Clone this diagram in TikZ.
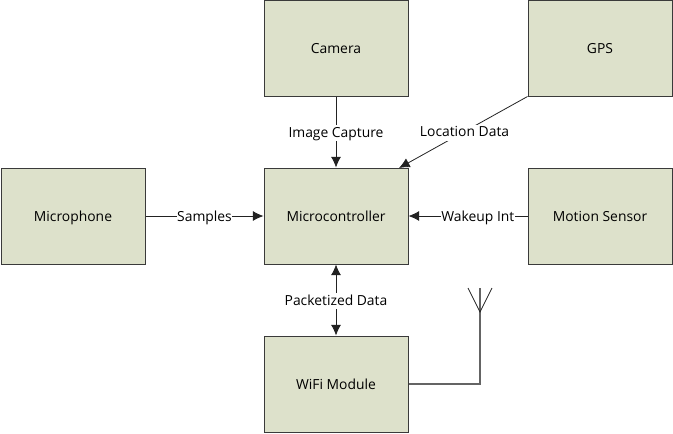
\documentclass[tikz,border=0pt]{standalone}
\usepackage{fontspec}
\setmainfont{Open Sans}
\usetikzlibrary{arrows.meta}
\definecolor{boxfill}{HTML}{DDE1CB}
\definecolor{boxline}{HTML}{3A3A3A}
\definecolor{wire}{HTML}{222222}
\tikzset{
  x=0.75pt,y=-0.75pt,
  blockbox/.style={draw=boxline,fill=boxfill,line width=0.75pt,minimum width=108pt,minimum height=72pt,inner sep=0pt,font=\fontsize{10.4}{12}\selectfont,text=black,text depth=0pt,text height=7.5pt},
  link/.style={draw=wire,line width=0.6pt},
  tip/.style={-{Latex[length=8pt,width=7.5pt]}},
  lab/.style={fill=white,inner xsep=0.3pt,inner ysep=1pt,yshift=-1pt,font=\fontsize{10.4}{12}\selectfont,text=black,text depth=2pt,text height=8pt},
  aerial/.style={draw=wire!70,line width=0.8pt},
}
\begin{document}
\begin{tikzpicture}
\useasboundingbox (0,0) rectangle (673,433);
\node[blockbox] (mic) at (73,216) {Microphone};
\node[blockbox] (cam) at (336,48) {Camera};
\node[blockbox] (gps) at (600,48) {GPS};
\node[blockbox] (mcu) at (336,216) {Microcontroller};
\node[blockbox] (mot) at (600,216) {Motion Sensor};
\node[blockbox] (wifi) at (336,384) {WiFi Module};
\coordinate (mcugps) at (399,168);
\coordinate (ajoint) at (480,312);
\coordinate (acorner) at (480,384);
\coordinate (atopm) at (480,288);
\coordinate (atopl) at (468,288);
\coordinate (atopr) at (492,288);
\draw[link,tip] (mic.east) -- node[lab,pos=0.5] {Samples} (mcu.west);
\draw[link,tip] (cam.south) -- node[lab,pos=0.5] {Image Capture} (mcu.north);
\draw[link,tip] (gps.south west) -- node[lab,pos=0.49] {Location Data} (mcugps);
\draw[link,tip] (mot.west) -- node[lab,pos=0.417] {Wakeup Int} (mcu.east);
\draw[link,{Latex[length=8pt,width=7.5pt]}-{Latex[length=8pt,width=7.5pt]}] (mcu.south) -- node[lab,pos=0.5] {Packetized Data} (wifi.north);
\draw[aerial] (wifi.east) -- (acorner) -- (ajoint) -- (atopm);
\draw[link] (atopl) -- (ajoint) -- (atopr);
\end{tikzpicture}
\end{document}
